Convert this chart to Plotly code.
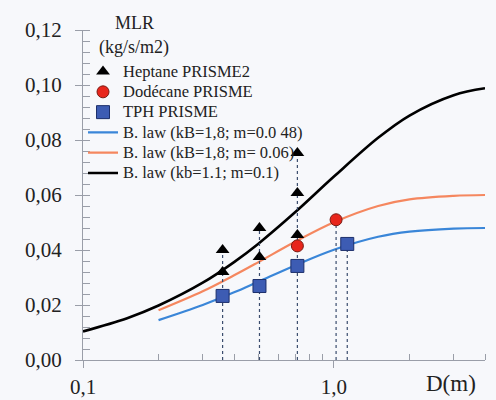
import plotly.graph_objects as go

# ---- data ----
heptane_D = [0.36, 0.36, 0.505, 0.505, 0.715, 0.715, 0.715]
heptane_mlr = [0.040, 0.032, 0.048, 0.0375, 0.0753, 0.0607, 0.0455]

dodecane_D = [0.715, 1.02]
dodecane_mlr = [0.0415, 0.051]

tph_D = [0.36, 0.505, 0.715, 1.13]
tph_mlr = [0.0233, 0.0269, 0.0342, 0.0422]

black_D = [0.1, 0.15, 0.2, 0.3, 0.4, 0.5, 0.7, 1.0, 1.5, 2.0, 3.0, 4.0]
black_mlr = [0.0104, 0.0152, 0.0198, 0.0281, 0.0356, 0.0423, 0.0537, 0.0667, 0.0808, 0.0889, 0.0963, 0.0988]

bo_D = [0.2, 0.3, 0.4, 0.5, 0.7, 1.0, 1.5, 2.0, 3.0, 4.0]
blue_mlr = [0.0145, 0.0200, 0.0246, 0.0285, 0.0344, 0.0401, 0.0448, 0.0467, 0.0478, 0.0480]
orange_mlr = [0.0181, 0.0250, 0.0308, 0.0356, 0.0430, 0.0501, 0.0560, 0.0584, 0.0597, 0.0600]

x_tickvals = [0.1, 1.0]
x_ticktext = ["0,1", "1,0"]
x_minor = [0.2, 0.3, 0.4, 0.5, 0.6, 0.7, 0.8, 0.9, 2, 3, 4]

names = ["Heptane PRISME2", "Dodécane PRISME", "TPH PRISME",
         "B. law (kB=1,8; m=0.0 48)", "B. law (kB=1,8; m= 0.06)", "B. law (kb=1.1; m=0.1)"]

SERIF = "Liberation Serif, Times New Roman, serif"
TXT = "#222222"
BG = "#f7f8fb"
AX = "#9a9ea8"


def lg(s):
    return '<span style="font-size:16.5px">' + s + '</span>'


fig = go.Figure()

# curves
fig.add_trace(go.Scatter(x=bo_D, y=blue_mlr, mode="lines", name=lg(names[3]), legendrank=4,
                         line=dict(color="#3a86d8", width=2.2, shape="spline")))
fig.add_trace(go.Scatter(x=bo_D, y=orange_mlr, mode="lines", name=lg(names[4]), legendrank=5,
                         line=dict(color="#f5875f", width=2.2, shape="spline")))
fig.add_trace(go.Scatter(x=black_D, y=black_mlr, mode="lines", name=lg(names[5]), legendrank=6,
                         line=dict(color="#000000", width=2.6, shape="spline")))

# dotted drop lines: from each measured D down to axis, up to the highest point at that D
all_pts = list(zip(heptane_D, heptane_mlr)) + list(zip(dodecane_D, dodecane_mlr)) + list(zip(tph_D, tph_mlr))
tops = {}
for d, v in all_pts:
    tops[d] = max(tops.get(d, 0), v)
dx, dy = [], []
for d in sorted(tops):
    dx += [d, d, None]
    dy += [0, tops[d], None]
fig.add_trace(go.Scatter(x=dx, y=dy, mode="lines", showlegend=False, hoverinfo="skip",
                         line=dict(color="#3b4d6e", width=1.2, dash="dot")))

# markers
fig.add_trace(go.Scatter(x=heptane_D, y=heptane_mlr, mode="markers", name=lg(names[0]), legendrank=1,
                         marker=dict(symbol="triangle-up", size=12, color="#000000")))
fig.add_trace(go.Scatter(x=dodecane_D, y=dodecane_mlr, mode="markers", name=lg(names[1]), legendrank=2,
                         marker=dict(symbol="circle", size=12, color="#e8261c",
                                     line=dict(color="#7a1a12", width=1))))
fig.add_trace(go.Scatter(x=tph_D, y=tph_mlr, mode="markers", name=lg(names[2]), legendrank=3,
                         marker=dict(symbol="square", size=13, color="#3d5cb3",
                                     line=dict(color="#1d2f6b", width=1))))

fig.update_layout(
    width=496, height=400,
    margin=dict(l=83, r=11, t=30, b=40, autoexpand=False),
    paper_bgcolor=BG, plot_bgcolor=BG,
    separators=", ",
    font=dict(family=SERIF, color=TXT, size=18),
    showlegend=True,
    legend=dict(x=0.0, y=0.92, xanchor="left", yanchor="top",
                bgcolor="rgba(0,0,0,0)", font=dict(family=SERIF, size=13.3, color=TXT),
                tracegroupgap=0, itemwidth=30),
    xaxis=dict(type="log", range=[-1, 0.602], showgrid=False, zeroline=False,
               automargin=False,
               showline=True, linecolor=AX, linewidth=1.2,
               tickmode="array", tickvals=x_tickvals, ticktext=x_ticktext,
               ticks="outside", ticklen=7, tickcolor=AX, ticklabelstandoff=1,
               tickfont=dict(family=SERIF, size=21, color=TXT),
               minor=dict(tickmode="array", tickvals=x_minor, ticks="inside",
                          ticklen=6, tickcolor=AX, showgrid=False)),
    yaxis=dict(range=[0, 0.12], showgrid=False, zeroline=False,
               automargin=False,
               showline=True, linecolor=AX, linewidth=1.2,
               tickmode="linear", tick0=0, dtick=0.02, tickformat=".2f",
               ticks="outside", ticklen=7, tickcolor=AX, ticklabelstandoff=9,
               tickfont=dict(family=SERIF, size=21, color=TXT),
               minor=dict(tickmode="linear", dtick=0.004, ticks="inside",
                          ticklen=7, tickcolor=AX, showgrid=False)),
)

# axis-title-like texts, placed by pixel position then converted to paper coordinates
pl, pr, pt, pb = 83, 496 - 11, 30, 400 - 40
labels = [("MLR", 134, 23, 18), ("(kg/s/m2)", 134, 47, 18), ("D(m)", 451, 383, 23)]
for text, px, py, fs in labels:
    fig.add_annotation(text=text, x=(px - pl) / (pr - pl), y=(pb - py) / (pb - pt),
                       xref="paper", yref="paper", showarrow=False,
                       xanchor="center", yanchor="middle",
                       font=dict(family=SERIF, size=fs, color=TXT))

fig.write_html("out.html")
